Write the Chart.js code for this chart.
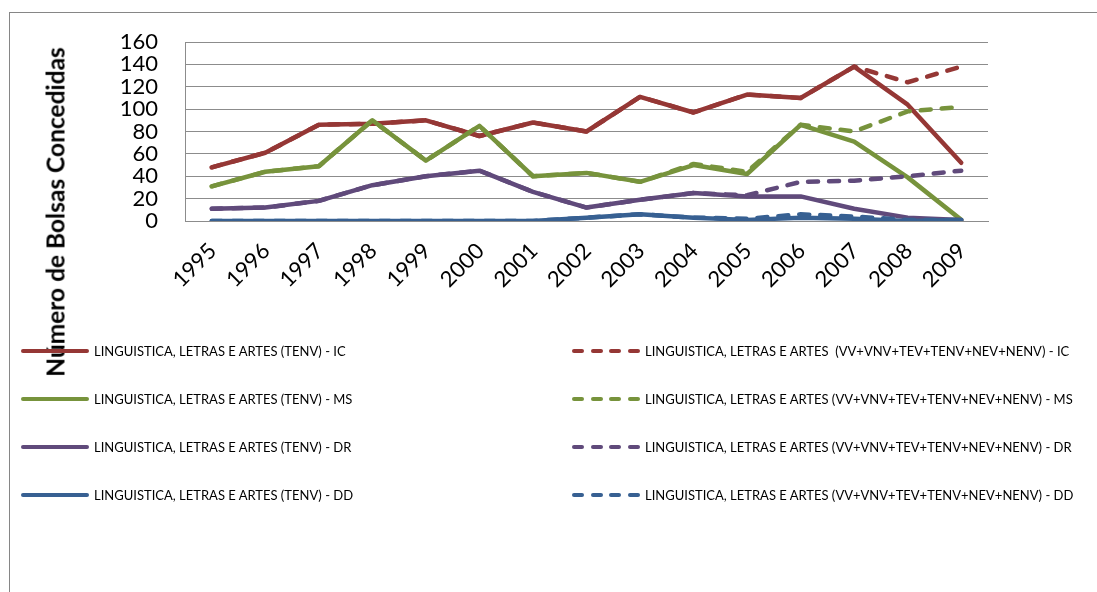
<!DOCTYPE html>
<html>
<head>
<meta charset="utf-8">
<script src="https://cdn.jsdelivr.net/npm/chart.js@4/dist/chart.umd.min.js"></script>
<style>
  html, body { margin: 0; padding: 0; background: #fff; overflow: hidden; }
  #wrap { position: relative; width: 1097px; height: 592px; }
  #frame { position: absolute; left: 9px; top: 12px; width: 1200px; height: 700px;
           border-left: 1px solid #868686; border-top: 1px solid #868686; }
  #chart { position: absolute; left: 0; top: 0; }
  #ytitle { position: absolute; left: 55px; top: 212px; transform: translate(-50%, -50%) rotate(-90deg);
            font: bold 24.5px Lato, sans-serif; white-space: nowrap; color: #000; }
  .leg { position: absolute; display: flex; align-items: center; height: 20px;
         font: 13px Lato, sans-serif; color: #000; white-space: pre; }
  .sw { display: flex; justify-content: space-between; width: 68px; margin-right: 5px; }
  .sw span { height: 4.5px; border-radius: 3px; }
</style>
</head>
<body>
<div id="wrap">
  <div id="frame"></div>
  <canvas id="chart" width="1097" height="592"></canvas>
  <div id="ytitle">Número de Bolsas Concedidas</div>
</div>
<script>
const years = ["1995","1996","1997","1998","1999","2000","2001","2002","2003","2004","2005","2006","2007","2008","2009"];

const icTenv  = [48, 61, 86, 87, 90, 76, 88, 80, 111, 97, 113, 110, 138, 104, 52];
const icTotal = [48, 61, 86, 87, 90, 76, 88, 80, 111, 97, 113, 110, 138, 124, 138];
const msTenv  = [31, 44, 49, 90, 54, 85, 40, 43, 35, 50, 42, 86, 71, 39, 1];
const msTotal = [31, 44, 49, 90, 54, 85, 40, 43, 35, 51, 44, 86, 80, 98, 102];
const drTenv  = [11, 12, 18, 32, 40, 45, 26, 12, 19, 25, 22, 22, 11, 3, 1];
const drTotal = [11, 12, 18, 32, 40, 45, 26, 12, 19, 25, 23, 35, 36, 40, 45];
const ddTenv  = [0, 0, 0, 0, 0, 0, 0, 3, 6, 3, 1, 3, 2, 0, 1];
const ddTotal = [0, 0, 0, 0, 0, 0, 0, 3, 6, 3, 2, 6, 4, 1, 1];

const labelsTenv = [
  "LINGUISTICA, LETRAS E ARTES (TENV) - IC",
  "LINGUISTICA, LETRAS E ARTES (TENV) - MS",
  "LINGUISTICA, LETRAS E ARTES (TENV) - DR",
  "LINGUISTICA, LETRAS E ARTES (TENV) - DD"
];
const labelsTotal = [
  "LINGUISTICA, LETRAS E ARTES  (VV+VNV+TEV+TENV+NEV+NENV) - IC",
  "LINGUISTICA, LETRAS E ARTES (VV+VNV+TEV+TENV+NEV+NENV) - MS",
  "LINGUISTICA, LETRAS E ARTES (VV+VNV+TEV+TENV+NEV+NENV) - DR",
  "LINGUISTICA, LETRAS E ARTES (VV+VNV+TEV+TENV+NEV+NENV) - DD"
];
const colors = ["#953735", "#77933c", "#604a7b", "#376092"];

const tenvData = [icTenv, msTenv, drTenv, ddTenv];
const totalData = [icTotal, msTotal, drTotal, ddTotal];

// Excel series order: solid then dashed for each level; later series sit on top
const datasets = [];
for (let i = 0; i < 4; i++) {
  datasets.push({ label: labelsTenv[i], data: tenvData[i], borderColor: colors[i], dashed: false });
  datasets.push({ label: labelsTotal[i], data: totalData[i], borderColor: colors[i], dashed: true,
                  borderDash: [10, 11] });
}
datasets.forEach((d, i) => {
  d.order = datasets.length - i;
  d.borderWidth = 4.5;
  d.pointRadius = 0;
  d.tension = 0;
  d.fill = false;
  d.borderJoinStyle = "round";
  d.borderCapStyle = "round";
});

const gridGray = "#8c8c8c";

new Chart(document.getElementById("chart"), {
  type: "line",
  data: { labels: years, datasets: datasets },
  options: {
    responsive: false,
    animation: false,
    events: [],
    layout: { padding: { left: 10, top: 42, right: 109, bottom: 271 } },
    plugins: { legend: { display: false }, tooltip: { enabled: false } },
    scales: {
      x: {
        offset: true,
        grid: { display: false, drawTicks: false },
        border: { display: true, color: gridGray, width: 1 },
        ticks: { color: "#000", font: { family: "Lato", size: 22 }, minRotation: 45, maxRotation: 45,
                 padding: 17, labelOffset: 1, autoSkip: false },
        afterFit: s => { s.height = 100; }
      },
      y: {
        min: 0, max: 160,
        grid: { color: gridGray, lineWidth: 1, drawTicks: false },
        border: { display: true, color: gridGray, width: 1 },
        ticks: { stepSize: 20, color: "#000", font: { family: "Lato", size: 22 }, padding: 27, autoSkip: false },
        afterFit: s => { s.width = 175; }
      }
    }
  }
});

// legend in two columns, built from the datasets
const wrap = document.getElementById("wrap");
const rowY = [351, 399, 447, 495];
datasets.forEach((d, i) => {
  const row = Math.floor(i / 2);
  const col = i % 2;
  const el = document.createElement("div");
  el.className = "leg";
  el.style.left = (col ? 572 : 21) + "px";
  el.style.top = (rowY[row] - 10) + "px";
  const sw = document.createElement("div");
  sw.className = "sw";
  const n = d.dashed ? 4 : 1;
  for (let k = 0; k < n; k++) {
    const s = document.createElement("span");
    s.style.background = d.borderColor;
    s.style.width = d.dashed ? "12px" : "68px";
    sw.appendChild(s);
  }
  el.appendChild(sw);
  el.appendChild(document.createTextNode(d.label));
  wrap.appendChild(el);
});
</script>
</body>
</html>
